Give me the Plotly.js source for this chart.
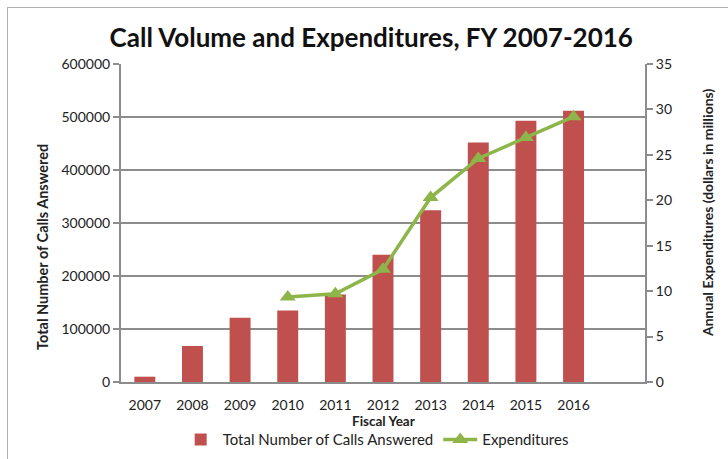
<!DOCTYPE html>
<html><head><meta charset="utf-8">
<script src="https://cdn.plot.ly/plotly-3.0.1.min.js"></script>
<style>
html,body{margin:0;padding:0;background:#fff;overflow:hidden;width:728px;height:459px;}
#frame{position:absolute;left:7px;top:7px;width:760px;height:480px;border:1px solid #b0b0b0;}
#chart{position:absolute;left:0;top:0;width:728px;height:459px;}
</style></head>
<body><div id="frame"></div><div id="chart"></div>
<script>
const years = ['2007','2008','2009','2010','2011','2012','2013','2014','2015','2016'];
const calls = [10000, 68000, 121000, 135000, 165000, 240000, 324000, 452000, 493000, 512000];
const expYears = ['2010','2011','2012','2013','2014','2015','2016'];
const expenditures = [9.35, 9.7, 12.4, 20.3, 24.6, 26.9, 29.2];

const F = 'Lato, "Open Sans", sans-serif';
const traces = [
  {type:'bar', x: years, y: calls, name:'Total Number of Calls Answered',
   marker:{color:'#c0504d'}, width:0.44, yaxis:'y'},
  {type:'scatter', mode:'lines+markers', x: expYears, y: expenditures, name:'Expenditures',
   line:{color:'#8db54a', width:3.5}, marker:{symbol:'triangle-up', size:14, color:'#8db54a'}, yaxis:'y2'}
];
const layout = {
  width:728, height:459,
  margin:{l:121, r:83, t:64, b:77, autoexpand:false},
  paper_bgcolor:'rgba(0,0,0,0)', plot_bgcolor:'rgba(0,0,0,0)',
  font:{family:F, size:13, color:'#222'},
  title:{text:'<b>Call Volume and Expenditures, FY 2007-2016</b>', x:0.51, xanchor:'center', y:0.917, yanchor:'middle',
    font:{family:F, size:26, color:'#111'}},
  showlegend:true,
  legend:{orientation:'h', x:0.487, xanchor:'center', yref:'container', y:0.042, yanchor:'middle',
    font:{size:15, color:'#222'}, traceorder:'normal', itemwidth:34, tracegroupgap:0},
  xaxis:{type:'category', range:[-0.5, 10.5], showline:true, linecolor:'#8c8c8c', linewidth:2,
    ticks:'', ticklabelstandoff:9, showgrid:false, tickfont:{size:14, color:'#222'}},
  yaxis:{range:[0,600000], dtick:100000, showline:true, linecolor:'#8c8c8c', linewidth:2,
    ticks:'outside', ticklen:6, tickcolor:'#8c8c8c', tickwidth:2,
    gridcolor:'#8c8c8c', gridwidth:2, zeroline:false,
    exponentformat:'none', separatethousands:false, tickformat:'d', tickfont:{size:14, color:'#222'}},
  yaxis2:{range:[0,35], dtick:5, overlaying:'y', side:'right', showline:true, linecolor:'#8c8c8c', linewidth:2,
    ticks:'outside', ticklen:6, tickcolor:'#8c8c8c', tickwidth:2, showgrid:false, zeroline:false,
    tickfont:{size:14, color:'#222'}},
  annotations:[
    {text:'<b>Fiscal Year</b>', xref:'paper', yref:'paper', x:0.5, y:-39/318, xanchor:'center', yanchor:'middle',
     showarrow:false, font:{size:13.5, color:'#222'}},
    {text:'<b>Total Number of Calls Answered</b>', xref:'paper', yref:'paper', x:-79/524, y:(382-247)/318,
     xanchor:'center', yanchor:'middle', textangle:-90, showarrow:false, font:{size:14.5, color:'#222'}},
    {text:'<b>Annual Expenditures (dollars in millions)</b>', xref:'paper', yref:'paper', x:1+62/524, y:(382-213)/318,
     xanchor:'center', yanchor:'middle', textangle:-90, showarrow:false, font:{size:14, color:'#222'}}
  ]
};
Plotly.newPlot('chart', traces, layout, {displayModeBar:false, staticPlot:true});
</script></body></html>
